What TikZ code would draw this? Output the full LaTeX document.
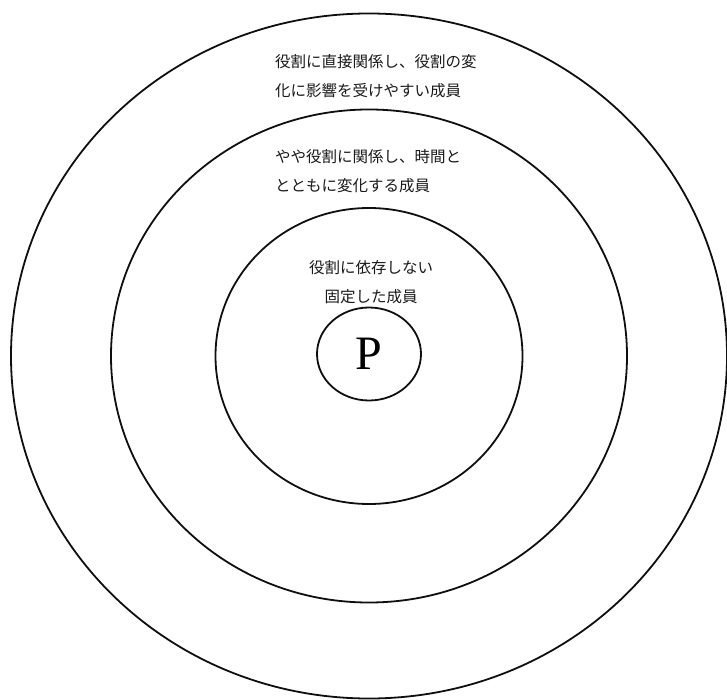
\documentclass[tikz,border=0pt]{standalone}
\usepackage{fontspec}
\newfontfamily\jpfont{Noto Sans CJK JP}
\newfontfamily\pfont{Liberation Serif}
\usetikzlibrary{shapes.geometric}
\definecolor{colRing}{RGB}{15,15,15}
\definecolor{colText}{RGB}{25,25,25}

\begin{document}
\begin{tikzpicture}[x=1pt, y=-1pt,
    every node/.style={font=\jpfont\fontsize{15.5}{29}\selectfont, text=colText},
    ring/.style={draw=colRing, line width=1.8pt},
    label/.style={anchor=west, align=left, inner sep=0pt}]
    \useasboundingbox (0,0) rectangle (727,700);
    \coordinate (centre) at (369,356);

    % rings, outer to inner
    \draw[ring] (centre) ellipse [x radius=358pt, y radius=342.5pt];
    \draw[ring] (centre) ellipse [x radius=258pt, y radius=246.5pt];
    \draw[ring] (centre) ellipse [x radius=153.5pt, y radius=148pt];

    % person in the middle
    \node[ring, ellipse, minimum width=104pt, minimum height=93pt, inner sep=0pt,
          font=\pfont\fontsize{48}{48}\selectfont, text=black] (person) at (369,354) {P};

    % ring labels
    \node[label] (outerLabel) at (275,76.5) {役割に直接関係し、役割の変\\化に影響を受けやすい成員};
    \node[label] (middleLabel) at (275,171) {やや役割に関係し、時間と\\とともに変化する成員};
    \node[label, anchor=center, align=center] (innerLabel) at (371,282) {役割に依存しない\\固定した成員};
\end{tikzpicture}
\end{document}
